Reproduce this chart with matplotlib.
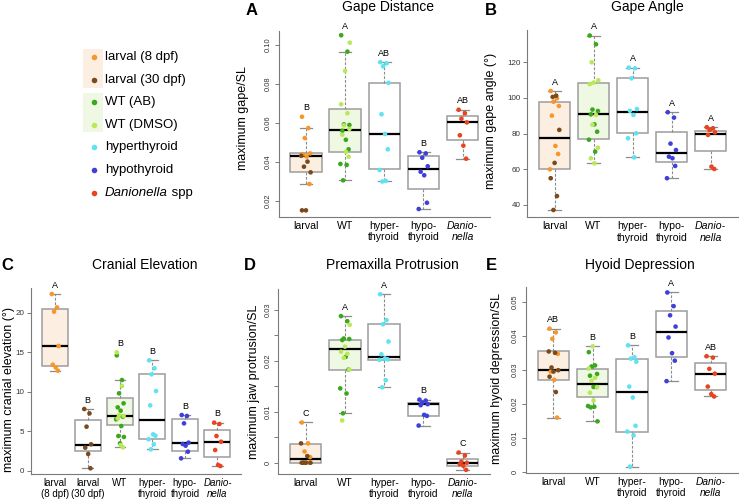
import numpy as np
import matplotlib.pyplot as plt
from matplotlib.patches import Rectangle

plt.rcParams['font.family'] = ['Liberation Sans', 'DejaVu Sans']

# colours of the groups
c_l8 = '#f7962a'
c_l30 = '#7b4a1c'
c_ab = '#3aa81c'
c_dmso = '#b9e85a'
c_hyper = '#5fe2f2'
c_hypo = '#3f3fdc'
c_dan = '#e8441f'
fill_larval = '#fcefe1'
fill_wt = '#eff8e2'

# ---- A: gape distance (gape/SL)
gape_l8 = [0.0632, 0.0574, 0.0523, 0.0444, 0.0440, 0.0428, 0.0287]
gape_l30 = [0.0432, 0.0402, 0.0376, 0.0347, 0.0152, 0.0152]
gape_ab = [0.1050, 0.0966, 0.0593, 0.0590, 0.0560, 0.0514, 0.0465, 0.0390, 0.0385, 0.0306]
gape_dmso = [0.1012, 0.0867, 0.0696, 0.0650, 0.0588, 0.0570, 0.0540, 0.0452, 0.0427]
gape_hyper = [0.0912, 0.0906, 0.0891, 0.0806, 0.0645, 0.0544, 0.0465, 0.0359, 0.0303, 0.0300]
gape_hypo = [0.0450, 0.0444, 0.0422, 0.0378, 0.0350, 0.0332, 0.0191, 0.0159]
gape_dan = [0.0668, 0.0650, 0.0622, 0.0603, 0.0537, 0.0484, 0.0417]
# box stats: whisker low, q1, median, q3, whisker high
gape_box = [[0.0287, 0.0347, 0.0429, 0.0444, 0.0574],
            [0.0306, 0.0450, 0.0566, 0.0670, 0.0966],
            [0.0303, 0.0362, 0.0544, 0.0807, 0.0911],
            [0.0159, 0.0262, 0.0362, 0.0433, 0.0450],
            [0.0417, 0.0511, 0.0605, 0.0636, 0.0668]]
gape_letters = ['B', 'A', 'AB', 'B', 'AB']

# ---- B: gape angle (deg)
angle_l8 = [103.9, 99.8, 97.9, 95.5, 90.1, 73.1, 68.6, 60.0]
angle_l30 = [101.3, 100.6, 82.1, 63.6, 55.0, 45.0, 37.2]
angle_ab = [135.0, 130.1, 93.5, 92.7, 90.8, 85.2, 81.1, 76.6, 69.9]
angle_dmso = [120.0, 109.9, 108.6, 107.8, 90.5, 85.0, 72.1, 66.2, 63.4]
angle_hyper = [117.0, 116.6, 111.0, 93.8, 92.8, 90.5, 80.2, 77.4, 66.7]
angle_hypo = [92.0, 89.0, 74.4, 70.8, 67.1, 66.2, 61.9, 55.0]
angle_dan = [83.6, 83.0, 82.1, 80.7, 79.3, 61.5, 60.2]
angle_box = [[37.2, 60.0, 77.4, 97.9, 103.9],
             [63.4, 76.8, 90.8, 108.6, 135.0],
             [66.7, 80.2, 92.0, 111.0, 117.0],
             [55.0, 63.9, 69.2, 81.1, 92.0],
             [60.0, 70.3, 80.0, 81.7, 83.6]]
angle_letters = ['A', 'A', 'A', 'A', 'A']

# ---- C: cranial elevation (deg)
cran_l8 = [22.36, 20.67, 20.13, 15.79, 13.43, 13.09, 12.67]
cran_l30 = [7.83, 7.28, 5.60, 3.37, 2.95, 2.15, 0.34]
cran_ab = [14.61, 11.49, 9.81, 8.55, 8.04, 7.62, 6.86, 6.53, 5.68, 4.42, 4.30, 3.49]
cran_dmso = [14.99, 10.74, 7.07, 6.95, 6.65, 3.28, 2.99]
cran_hyper = [13.98, 12.97, 12.21, 10.10, 8.29, 4.63, 4.46, 4.00, 3.37, 2.74]
cran_hypo = [7.07, 6.95, 6.02, 3.58, 3.41, 3.20, 2.44, 1.60]
cran_dan = [6.11, 5.94, 4.42, 3.70, 2.65, 0.76, 0.63]
cran_box = [[12.67, 13.26, 15.79, 20.42, 22.36],
            [0.34, 2.53, 3.28, 6.44, 7.83],
            [2.99, 5.77, 6.95, 9.18, 11.49],
            [2.74, 4.00, 6.44, 12.21, 13.98],
            [1.60, 2.53, 3.49, 6.53, 7.07],
            [0.63, 1.73, 3.70, 5.18, 6.11]]
cran_letters = ['A', 'B', 'B', 'B', 'B', 'B']

# ---- D: premaxilla protrusion (/SL)
prot_l8 = [0.0079, 0.0038, 0.0022, 0.0011, 0.0, 0.0, 0.0]
prot_l30 = [0.0038, 0.0013, 0.0, 0.0, 0.0, 0.0]
prot_ab = [0.0288, 0.0278, 0.0244, 0.0243, 0.0241, 0.0208, 0.0183, 0.0146, 0.0136, 0.0097]
prot_dmso = [0.0271, 0.0228, 0.0218, 0.0214, 0.0206, 0.0183, 0.0083]
prot_hyper = [0.0331, 0.0280, 0.0272, 0.0238, 0.0213, 0.0205, 0.0203, 0.0202, 0.0162, 0.0148]
prot_hypo = [0.0124, 0.0122, 0.0118, 0.0115, 0.0113, 0.0094, 0.0092, 0.0073]
prot_dan = [0.0020, 0.0014, 0.0002, 0.0, -0.0003, -0.0006, -0.0014]
prot_box = [[0.0, 0.0, 0.00066, 0.0036, 0.0079],
            [0.0097, 0.0182, 0.0223, 0.0242, 0.0288],
            [0.0148, 0.0202, 0.0208, 0.0272, 0.0331],
            [0.0073, 0.0092, 0.0115, 0.0118, 0.0124],
            [-0.0014, -0.0006, 0.0, 0.0007, 0.0020]]
prot_letters = ['C', 'A', 'A', 'B', 'C']

# ---- E: hyoid depression (/SL)
hyo_l8 = [0.0421, 0.0410, 0.0391, 0.0347, 0.0295, 0.0271, 0.0160]
hyo_l30 = [0.0354, 0.0350, 0.0307, 0.0299, 0.0295, 0.0280, 0.0235]
hyo_ab = [0.0352, 0.0313, 0.0310, 0.0288, 0.0283, 0.0250, 0.0250, 0.0194, 0.0192, 0.0190, 0.0149]
hyo_dmso = [0.0369, 0.0304, 0.0277, 0.0268, 0.0249, 0.0233, 0.0210]
hyo_hyper = [0.0372, 0.0337, 0.0333, 0.0324, 0.0251, 0.0219, 0.0136, 0.0119, 0.0108, 0.0016]
hyo_hypo = [0.0527, 0.0487, 0.0460, 0.0427, 0.0395, 0.0349, 0.0327, 0.0267]
hyo_dan = [0.0340, 0.0336, 0.0303, 0.0289, 0.0251, 0.0229, 0.0222]
hyo_box = [[0.0160, 0.0271, 0.0301, 0.0354, 0.0421],
           [0.0149, 0.0220, 0.0260, 0.0302, 0.0369],
           [0.0016, 0.0119, 0.0234, 0.0331, 0.0372],
           [0.0267, 0.0337, 0.0411, 0.0474, 0.0527],
           [0.0222, 0.0241, 0.0289, 0.0319, 0.0340]]
hyo_letters = ['AB', 'B', 'B', 'A', 'AB']

cats5 = ['larval', 'WT', 'hyper-\nthyroid', 'hypo-\nthyroid', 'Danio-\nnella']
cats6 = ['larval\n(8 dpf)', 'larval\n(30 dpf)', 'WT', 'hyper-\nthyroid', 'hypo-\nthyroid', 'Danio-\nnella']

legend_labels = ['larval (8 dpf)', 'larval (30 dpf)', 'WT (AB)', 'WT (DMSO)',
                 'hyperthyroid', 'hypothyroid', 'Danionella']
legend_colors = [c_l8, c_l30, c_ab, c_dmso, c_hyper, c_hypo, c_dan]

W, H = 739, 503
fig = plt.figure(figsize=(W / 100, H / 100), dpi=100)

jit = [-0.10, 0.06, -0.03, 0.11, -0.07, 0.02, 0.09, -0.12, 0.04, -0.05, 0.12, 0.0]
axcol = '#7a7a7a'


def px_axes(l, t, r, b):
    return fig.add_axes([l / W, 1 - b / H, (r - l) / W, (b - t) / H])


def panel(ax, groups, box, fills, letters, labels, ylim, yticks, yticklabels, rot,
          xfs=7.6, yfs=5.8):
    n = len(groups)
    pos = np.arange(1, n + 1)
    st = [dict(whislo=s[0], q1=s[1], med=s[2], q3=s[3], whishi=s[4], fliers=[]) for s in box]
    bp = ax.bxp(st, positions=pos, widths=0.8, patch_artist=True, capwidths=0.32,
                showfliers=False,
                boxprops=dict(edgecolor='#9d9d9d', linewidth=1.1),
                whiskerprops=dict(color='#8c8c8c', linewidth=0.8, linestyle=(0, (2.5, 1.5))),
                capprops=dict(color='#8c8c8c', linewidth=0.9),
                medianprops=dict(color='black', linewidth=1.6))
    for patch, fc in zip(bp['boxes'], fills):
        patch.set_facecolor(fc)
    for i, grp in enumerate(groups):
        xs, ys, cs = [], [], []
        k = 0
        for vals, col in grp:
            for v in vals:
                xs.append(pos[i] + jit[k % len(jit)])
                ys.append(v)
                cs.append(col)
                k += 1
        ax.scatter(xs, ys, s=11, c=cs, linewidths=0, zorder=3)
        ax.annotate(letters[i], (pos[i], max(ys)), xytext=(0, 3.2), textcoords='offset points',
                    ha='center', va='bottom', fontsize=6.5)
    ax.set_xlim(0.5 - 0.04 * n, n + 0.5 + 0.04 * n)
    ax.set_ylim(*ylim)
    ax.set_xticks(pos, labels)
    ax.tick_params(axis='x', length=0, pad=3, labelsize=xfs)
    for t in ax.get_xticklabels():
        t.set_linespacing(1.15)
    ax.get_xticklabels()[-1].set_fontstyle('italic')
    ax.set_yticks(yticks, yticklabels)
    ax.tick_params(axis='y', length=3, width=0.7, color=axcol, labelsize=yfs, pad=2,
                   labelcolor='#333333')
    if rot:
        for t in ax.get_yticklabels():
            t.set_rotation(90)
            t.set_va('center')
    ax.patch.set_alpha(0)
    for s in ['top', 'right']:
        ax.spines[s].set_visible(False)
    for s in ['left', 'bottom']:
        ax.spines[s].set_color(axcol)
        ax.spines[s].set_linewidth(0.8)


fills5 = [fill_larval, fill_wt, 'white', 'white', 'white']
fills6 = [fill_larval, 'white', fill_wt, 'white', 'white', 'white']

axA = px_axes(278.5, 31, 490, 216.5)
panel(axA, [[(gape_l8, c_l8), (gape_l30, c_l30)], [(gape_ab, c_ab), (gape_dmso, c_dmso)],
            [(gape_hyper, c_hyper)], [(gape_hypo, c_hypo)], [(gape_dan, c_dan)]],
      gape_box, fills5, gape_letters, cats5, (0.01205, 0.10718),
      [0.02, 0.04, 0.06, 0.08, 0.10], ['0.02', '0.04', '0.06', '0.08', '0.10'], True,
      yfs=5.4)

axB = px_axes(527.3, 30, 738, 217.3)
panel(axB, [[(angle_l8, c_l8), (angle_l30, c_l30)], [(angle_ab, c_ab), (angle_dmso, c_dmso)],
            [(angle_hyper, c_hyper)], [(angle_hypo, c_hypo)], [(angle_dan, c_dan)]],
      angle_box, fills5, angle_letters, cats5, (33.1, 138.1),
      [40, 60, 80, 100, 120], ['40', '60', '80', '100', '120'], False)

axC = px_axes(31, 288, 241.5, 474)
panel(axC, [[(cran_l8, c_l8)], [(cran_l30, c_l30)], [(cran_ab, c_ab), (cran_dmso, c_dmso)],
            [(cran_hyper, c_hyper)], [(cran_hypo, c_hypo)], [(cran_dan, c_dan)]],
      cran_box, fills6, cran_letters, cats6, (-0.38, 23.12),
      [0, 5, 10, 15, 20], ['0', '5', '10', '15', '20'], False, xfs=7.0)

axD = px_axes(278.3, 289.3, 490, 474)
panel(axD, [[(prot_l8, c_l8), (prot_l30, c_l30)], [(prot_ab, c_ab), (prot_dmso, c_dmso)],
            [(prot_hyper, c_hyper)], [(prot_hypo, c_hypo)], [(prot_dan, c_dan)]],
      prot_box, fills5, prot_letters, cats5, (-0.00222, 0.03407),
      [0, 0.005, 0.01, 0.015, 0.02, 0.025, 0.03], ['0', '', '0.01', '', '0.02', '', '0.03'], True,
      xfs=7.3, yfs=5.4)

axE = px_axes(526, 287.3, 738, 472.5)
panel(axE, [[(hyo_l8, c_l8), (hyo_l30, c_l30)], [(hyo_ab, c_ab), (hyo_dmso, c_dmso)],
            [(hyo_hyper, c_hyper)], [(hyo_hypo, c_hypo)], [(hyo_dan, c_dan)]],
      hyo_box, fills5, hyo_letters, cats5, (-0.0001, 0.05422),
      [0, 0.01, 0.02, 0.03, 0.04, 0.05], ['0', '0.01', '0.02', '0.03', '0.04', '0.05'], True,
      xfs=7.3, yfs=5.4)

# overlay in pixel coordinates for titles, panel letters, y labels and legend
ov = fig.add_axes([0, 0, 1, 1], zorder=10)
ov.set_xlim(0, W)
ov.set_ylim(H, 0)
ov.axis('off')

titles = [('Gape Distance', 388, 7), ('Gape Angle', 647, 7), ('Cranial Elevation', 145, 265),
          ('Premaxilla Protrusion', 392, 265), ('Hyoid Depression', 640, 265)]
for txt, x, y in titles:
    ov.text(x, y, txt, ha='center', va='center', fontsize=10)

for txt, x, y in [('A', 252, 10), ('B', 491, 10), ('C', 7, 265), ('D', 250, 265), ('E', 491, 265)]:
    ov.text(x, y, txt, ha='center', va='center', fontsize=12, fontweight='bold')

ylabs = [('maximum gape/SL', 243, 118), ('maximum gape angle (°)', 491, 121),
         ('maximum cranial elevation (°)', 9, 389), ('maximum jaw protrusion/SL', 254, 382),
         ('maximum hyoid depression/SL', 497, 378)]
for txt, x, y in ylabs:
    ov.text(x, y, txt, ha='center', va='center', rotation=90, fontsize=9)

# legend
ov.add_patch(Rectangle((83, 49), 20, 39, facecolor=fill_larval, edgecolor='none', zorder=0))
ov.add_patch(Rectangle((83, 93), 20, 39, facecolor=fill_wt, edgecolor='none', zorder=0))
for i, (lab, col) in enumerate(zip(legend_labels, legend_colors)):
    y = 57 + i * 22.6
    ov.scatter([94], [y], s=16, color=col, linewidths=0)
    t = ov.text(105, y, lab, ha='left', va='center', fontsize=9.5,
                fontstyle='italic' if lab == 'Danionella' else 'normal')
    if lab == 'Danionella':
        ov.annotate(' spp', xy=(1, 0.5), xycoords=t, ha='left', va='center', fontsize=9.5)

fig.savefig('out.png', dpi=100)
